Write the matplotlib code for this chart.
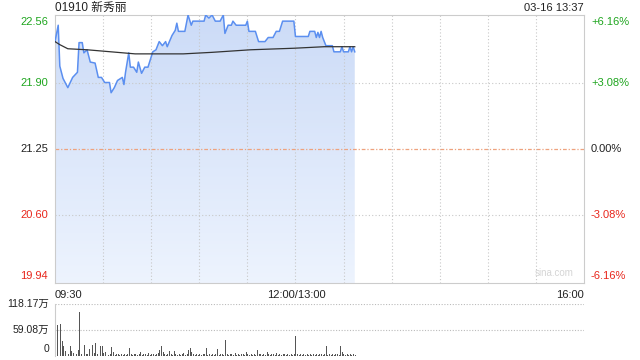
import numpy as np
import matplotlib
matplotlib.use("Agg")
import matplotlib.pyplot as plt
from matplotlib.patches import Polygon

plt.rcParams['font.family'] = ['Liberation Sans', 'Noto Sans CJK SC', 'DejaVu Sans']

# price data (minutes since 09:30, lunch break removed)
minutes = [0, 2, 3, 5, 8, 11, 14, 15, 17, 18, 20, 22, 25, 27, 29, 31, 34, 35, 37, 39,
           42, 43, 44, 46, 47, 49, 51, 52, 54, 56, 58, 60, 61, 63, 65, 67, 69, 70, 73, 75,
           76, 77, 81, 83, 85, 86, 93, 94, 96, 98, 100, 103, 105, 106, 108, 110, 111, 113, 119, 120,
           121, 125, 127, 131, 133, 136, 138, 140, 142, 149, 150, 158, 159, 162, 163, 164, 165, 166, 167, 169,
           173, 174, 178, 179, 180, 183, 184, 185, 186, 187]
prices = [22.30, 22.46, 22.06, 21.94, 21.85, 21.95, 22.00, 22.29, 22.29, 22.19, 22.22, 22.10, 22.09, 21.95, 21.95, 21.90, 21.90, 21.80, 21.85, 21.92,
          21.95, 21.88, 22.00, 22.19, 22.05, 22.05, 22.00, 22.10, 21.99, 22.05, 22.05, 22.15, 22.20, 22.22, 22.30, 22.26, 22.30, 22.25, 22.36, 22.41,
          22.48, 22.40, 22.40, 22.56, 22.46, 22.50, 22.50, 22.56, 22.53, 22.56, 22.50, 22.50, 22.56, 22.38, 22.46, 22.46, 22.50, 22.46, 22.46, 22.50,
          22.40, 22.40, 22.30, 22.30, 22.34, 22.34, 22.40, 22.40, 22.50, 22.50, 22.35, 22.35, 22.40, 22.40, 22.34, 22.39, 22.34, 22.40, 22.34, 22.26,
          22.26, 22.20, 22.20, 22.25, 22.20, 22.20, 22.25, 22.20, 22.25, 22.20]

avg_minutes = [0, 3, 8, 20, 35, 50, 80, 98, 122, 149, 168, 187]
avg_prices = [22.30, 22.27, 22.23, 22.22, 22.20, 22.18, 22.18, 22.195, 22.22, 22.235, 22.25, 22.25]

# volume per minute, in 万
volume = [118, 70, 45, 73, 34, 23, 11, 9, 5, 23, 11, 6, 9, 5, 13, 100, 4, 3, 25, 5,
          4, 16, 5, 25, 6, 30, 5, 3, 22, 23, 6, 9, 4, 3, 5, 20, 8, 3, 4, 5,
          3, 4, 3, 5, 3, 4, 18, 5, 3, 4, 5, 3, 4, 9, 3, 4, 5, 3, 6, 3,
          4, 5, 3, 4, 6, 14, 23, 8, 4, 3, 5, 11, 4, 3, 11, 4, 3, 5, 3, 4,
          6, 3, 5, 14, 18, 8, 4, 3, 5, 3, 4, 3, 5, 4, 18, 3, 4, 3, 5, 3,
          4, 16, 3, 4, 5, 3, 36, 4, 3, 5, 4, 3, 6, 3, 4, 3, 5, 4, 3, 9,
          4, 3, 5, 3, 4, 3, 14, 5, 4, 3, 5, 3, 9, 4, 3, 5, 4, 3, 6, 3,
          4, 3, 5, 4, 3, 4, 3, 5, 3, 4, 46, 4, 3, 5, 3, 4, 3, 5, 3, 4,
          3, 5, 3, 4, 3, 5, 4, 3, 4, 23, 3, 5, 3, 4, 3, 5, 4, 3, 23, 8,
          4, 3, 5, 3, 4, 3, 5, 3]

prev_close = 21.25
price_ticks = [22.56, 21.90, 21.25, 20.60, 19.94]
pct_labels = ['+6.16%', '+3.08%', '0.00%', '-3.08%', '-6.16%']
tick_colors = ['#1ea51e', '#1ea51e', '#222222', '#e8261c', '#e8261c']
vol_ticks = [118.17, 59.08, 0]
vol_labels = ['118.17万', '59.08万', '0']

ymin, ymax = 19.94, 22.56

fig = plt.figure(figsize=(6.4, 3.6), dpi=100)
ax = fig.add_axes([55/640, 1-283/360, 529/640, 268/360])
ax.set_xlim(0, 330)
ax.set_ylim(ymin, ymax)

# grid, drawn over the fill
for t in range(30, 330, 30):
    ax.axvline(t, color='#c8c8c8', lw=0.8, ls=(0, (1, 2)), zorder=2)
for p in [21.90, 20.60]:
    ax.axhline(p, color='#c8c8c8', lw=0.8, ls=(0, (1, 2)), zorder=2)
ax.axhline(prev_close, color='#eea27e', lw=0.9, ls=(0, (3, 1.5, 1, 1.5)), zorder=2)

# gradient fill under price line
grad = np.linspace(0, 1, 256).reshape(-1, 1)
top_c = np.array([0.80, 0.86, 0.97])
bot_c = np.array([0.93, 0.955, 0.995])
img = top_c * (1 - grad[..., None]) + bot_c * grad[..., None]
im = ax.imshow(img, extent=[0, 330, ymin, ymax], aspect='auto', origin='upper', zorder=1)
poly = Polygon(list(zip(minutes, prices)) + [(minutes[-1], ymin), (minutes[0], ymin)],
               closed=True, transform=ax.transData, facecolor='none', edgecolor='none')
ax.add_patch(poly)
im.set_clip_path(poly)

ax.plot(minutes, prices, color='#5b8ff0', lw=1.1, zorder=3)
ax.plot(avg_minutes, avg_prices, color='#333333', lw=0.9, zorder=3)

for s in ax.spines.values():
    s.set_color('#cccccc')
ax.set_xticks([])
ax.set_yticks([])

# left / right labels
for i, (p, c) in enumerate(zip(price_ticks, tick_colors)):
    off = 0
    if i == 0:
        off = -5
    elif i == len(price_ticks) - 1:
        off = 5
    ax.annotate(f'{p:.2f}', xy=(0, p), xytext=(-5, off), textcoords='offset points',
                ha='right', va='center', fontsize=8, color=c, annotation_clip=False)
    ax.annotate(pct_labels[i], xy=(330, p), xytext=(5, off), textcoords='offset points',
                ha='left', va='center', fontsize=8, color=c, annotation_clip=False)

ax.text(0.98, 0.02, 'sina.com', transform=ax.transAxes, ha='right', va='bottom',
        fontsize=7, color='#d5d5d5')

fig.text(55/640, 1-8/360, '01910 新秀丽', ha='left', va='center', fontsize=8.5, color='#222222')
fig.text(584/640, 1-8/360, '03-16 13:37', ha='right', va='center', fontsize=8, color='#222222')

fig.text(55/640, 1-295/360, '09:30', ha='left', va='center', fontsize=8, color='#222222')
fig.text(296/640, 1-295/360, '12:00/13:00', ha='center', va='center', fontsize=8, color='#222222')
fig.text(584/640, 1-295/360, '16:00', ha='right', va='center', fontsize=8, color='#222222')

# volume panel
vax = fig.add_axes([55/640, 1-356/360, 529/640, 52/360])
vax.set_xlim(-0.5, 330)
vax.set_ylim(0, 118.17)
vax.bar(range(len(volume)), volume, width=0.6, color='#555555', zorder=2)
for v in vol_ticks[:2]:
    vax.axhline(v, color='#bbbbbb', lw=0.8, ls=(0, (1, 1.5)), zorder=0)
for k in ['top', 'right', 'bottom']:
    vax.spines[k].set_visible(False)
vax.spines['left'].set_color('#cccccc')
vax.set_xticks([])
vax.set_yticks([])
for v, lab in zip(vol_ticks, vol_labels):
    off = 5 if v == 0 else 0
    vax.annotate(lab, xy=(-0.5, v), xytext=(-4, off), textcoords='offset points',
                 ha='right', va='center', fontsize=7.5, color='#222222', annotation_clip=False)

fig.savefig('out.png', dpi=100)
